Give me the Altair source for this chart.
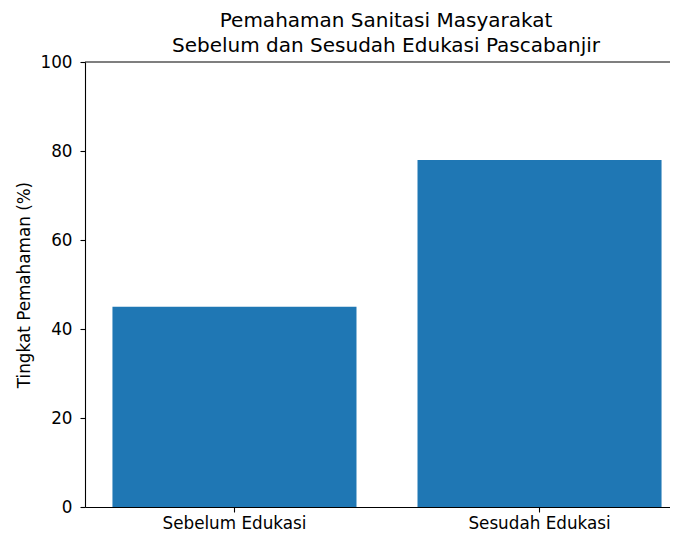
import altair as alt
import pandas as pd

categories = ["Sebelum Edukasi", "Sesudah Edukasi"]
values = [45, 78]
y_ticks = [0, 20, 40, 60, 80, 100]

df = pd.DataFrame({"kategori": categories, "nilai": values})

FONT = "DejaVu Sans"
W, H = 585, 445

bars = alt.Chart(df).mark_bar(color="#1f77b4").encode(
    x=alt.X("kategori:N", sort=categories,
            scale=alt.Scale(paddingInner=0.2, paddingOuter=0.09, range=[0, 604]),
            axis=alt.Axis(title=None, labelAngle=0, labelFontSize=16.8, labelFont=FONT,
                          labelColor="#000000", tickSize=5, tickColor="#000000",
                          tickWidth=1.1, domainWidth=1.1,
                          domainColor="#000000", labelPadding=3, grid=False)),
    y=alt.Y("nilai:Q", scale=alt.Scale(domain=[0, 100], nice=False),
            axis=alt.Axis(title="Tingkat Pemahaman (%)", values=y_ticks,
                          labelFontSize=16.8, labelFont=FONT, labelColor="#000000",
                          titleFontSize=16.8, titleFont=FONT, titleFontWeight="normal",
                          titleColor="#000000", titleX=-61, titleY=H / 2, titleAngle=270,
                          titleAlign="center", titleBaseline="middle",
                          tickSize=5, tickColor="#000000", tickWidth=1.1, domainWidth=1.1,
                          domainColor="#000000", labelPadding=8, grid=False)),
)

top_spine = alt.Chart(pd.DataFrame({"s": [0]})).mark_rule(color="#000000", strokeWidth=1.1).encode(
    x=alt.value(0), x2=alt.value(W), y=alt.value(0)
)

chart = alt.layer(bars, top_spine).properties(
    width=W,
    height=H,
    title=alt.TitleParams(
        text=["Pemahaman Sanitasi Masyarakat", "Sebelum dan Sesudah Edukasi Pascabanjir"],
        font=FONT, fontSize=20.0, fontWeight="normal", color="#000000",
        anchor="middle", baseline="bottom", offset=8, lineHeight=25, dy=30, dx=8.5,
    ),
    autosize=alt.AutoSizeParams(type="none"),
    padding={"left": 77, "top": 54, "right": 0, "bottom": 26},
).configure_view(stroke=None)

chart.save("out.html", embed_options={"renderer": "svg", "actions": False})
